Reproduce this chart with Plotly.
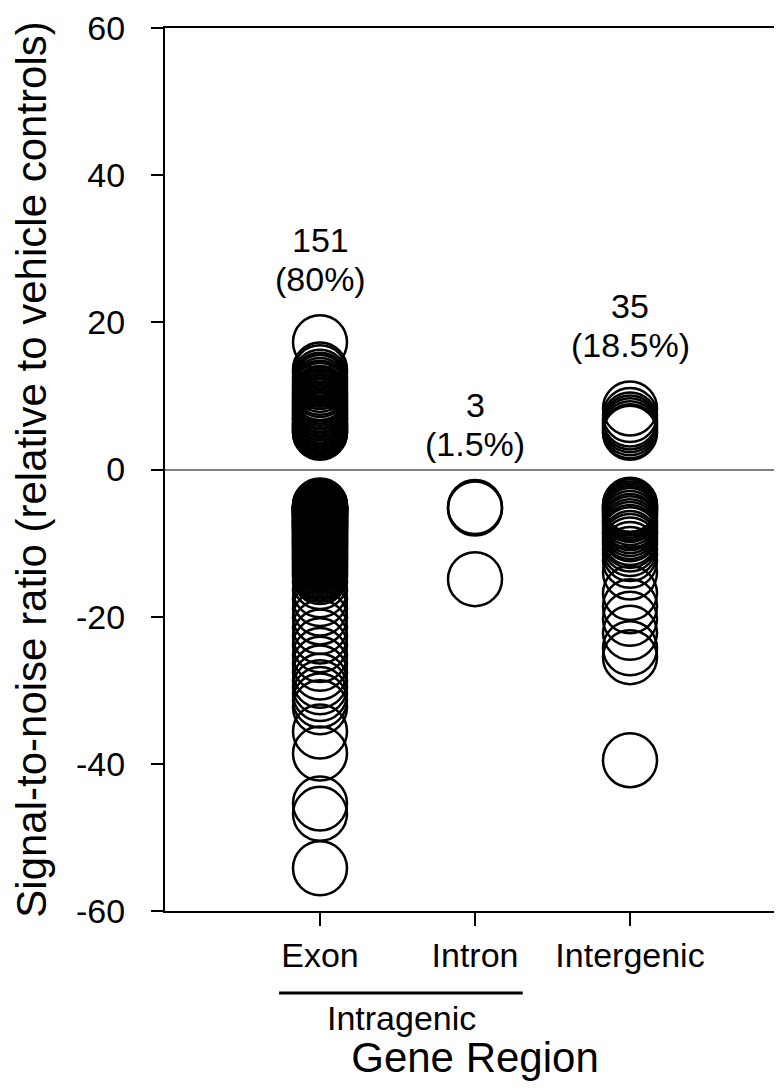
import plotly.graph_objects as go

# gene region categories and signal-to-noise values
categories = ["Exon", "Intron", "Intergenic"]

exon_snr = [
    17.3, 13.6, 13.2, 12.6, 12.2, 11.9, 11.5, 11.1, 10.8, 10.4, 10.2, 9.9,
    9.6, 9.3, 9.1, 8.8, 8.6, 8.3, 8.1, 7.8, 7.6, 7.3, 7.1, 6.9, 6.7, 6.4,
    6.2, 6.0, 5.9, 5.7, 5.5, 5.4, 5.2, 5.1, 5.0,
    -4.9, -5.0, -5.0, -5.1, -5.1, -5.2, -5.2, -5.3, -5.3, -5.4, -5.5, -5.5,
    -5.6, -5.7, -5.7, -5.8, -5.9, -5.9, -6.0, -6.1, -6.1, -6.2, -6.3, -6.4,
    -6.5, -6.6, -6.7, -6.8, -6.9, -7.0, -7.1, -7.2, -7.3, -7.4, -7.5, -7.6,
    -7.7, -7.8, -7.9, -8.0, -8.2, -8.3, -8.4, -8.5, -8.7, -8.8, -9.0, -9.1,
    -9.3, -9.4, -9.6, -9.7, -9.9, -10.0, -10.2, -10.3, -10.5, -10.6, -10.8,
    -11.0, -11.2, -11.4, -11.6, -11.8, -12.0, -12.2, -12.4, -12.6, -12.9,
    -13.1, -13.4, -13.7, -14.0, -14.3, -14.6,
    -15.3, -16.4, -17.6, -18.9, -20.1, -21.4, -22.7, -23.9, -25.2, -26.4,
    -27.6, -28.7, -29.6, -30.5, -31.4, -32.3,
    -35.6, -38.6, -45.4, -46.8, -54.2,
]

intron_snr = [-5.1, -5.3, -14.9]

intergenic_snr = [
    8.3, 7.4, 6.8, 6.4, 6.0, 5.6, 5.2, 5.0,
    -4.8, -5.0, -5.3, -5.6, -5.9, -6.2, -6.6, -7.0, -7.3, -7.7, -8.1, -8.5,
    -8.8, -9.3, -9.7, -10.2, -10.8, -11.5, -12.4, -14.0, -16.8, -18.6,
    -20.3, -22.2, -24.3, -25.5, -39.5,
]

count_labels = ["151", "3", "35"]
pct_labels = ["(80%)", "(1.5%)", "(18.5%)"]

y_tick_vals = [-60, -40, -20, 0, 20, 40, 60]
y_tick_text = ["-60", "-40", "-20", "0", "20", "40", "60"]

FONT = "Liberation Sans, Arial, sans-serif"

fig = go.Figure()

series = [exon_snr, intron_snr, intergenic_snr]
for cat, vals in zip(categories, series):
    fig.add_trace(go.Scatter(
        x=[cat] * len(vals), y=vals, mode="markers",
        marker=dict(symbol="circle-open", size=54, color="black",
                    line=dict(width=2.5)),
        showlegend=False, cliponaxis=False,
    ))

# counts above each column
for cat, vals, cnt, pct in zip(categories, series, count_labels, pct_labels):
    top = max(vals)
    fig.add_annotation(x=cat, y=top + 8.6, text=pct, showarrow=False,
                       font=dict(size=34), yanchor="middle")
    fig.add_annotation(x=cat, y=top + 13.9, text=cnt, showarrow=False,
                       font=dict(size=34), yanchor="middle")

# bracket grouping exon + intron
fig.add_shape(type="line", xref="paper", yref="paper",
              x0=0.184, x1=0.577, y0=-0.0929, y1=-0.0929,
              line=dict(color="black", width=3))
fig.add_annotation(xref="paper", yref="paper", x=0.381, y=-0.121,
                   text="Intragenic", showarrow=False,
                   font=dict(size=34), yanchor="middle")

fig.update_layout(
    width=782, height=1092,
    margin=dict(l=157, r=5, t=20, b=189),
    plot_bgcolor="white", paper_bgcolor="white",
    font=dict(family=FONT, color="black"),
)

fig.update_xaxes(
    type="category", categoryorder="array", categoryarray=categories,
    range=[-1, 3], showline=True, linecolor="black", linewidth=2,
    mirror=True, ticks="outside", ticklen=13, tickwidth=2,
    tickcolor="black", tickfont=dict(size=34), showgrid=False,
    automargin=False,
    title=dict(text="Gene Region", font=dict(size=42), standoff=70),
)

fig.update_yaxes(
    range=[-60, 60], tickvals=y_tick_vals, ticktext=y_tick_text,
    showline=True, linecolor="black", linewidth=2, mirror=True,
    ticks="outside", ticklen=12, tickwidth=2, tickcolor="black",
    tickfont=dict(size=34), showgrid=False, ticklabelstandoff=19,
    zeroline=True, zerolinecolor="#808080", zerolinewidth=2,
    automargin=False,
    title=dict(text="Signal-to-noise ratio (relative to vehicle controls)",
               font=dict(size=42), standoff=34),
)

fig.write_html("out.html")
